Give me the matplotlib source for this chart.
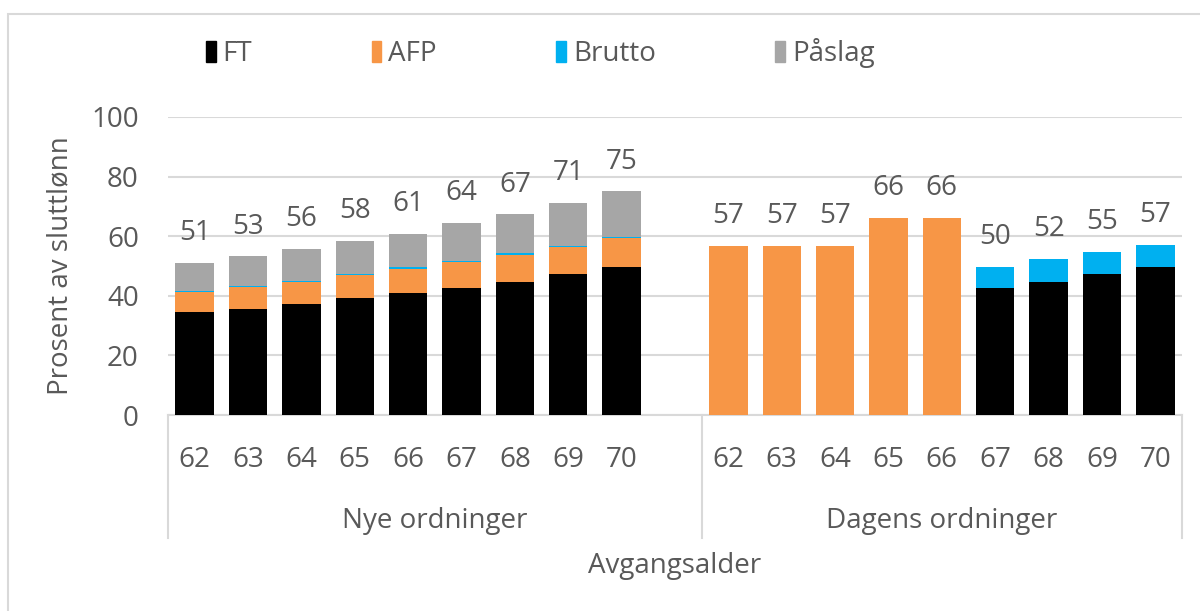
import numpy as np
import matplotlib
matplotlib.use("Agg")
import matplotlib.pyplot as plt
import matplotlib.transforms as mtransforms
from matplotlib.patches import Rectangle, Patch

# Data (percent of final salary)
ages = ["62", "63", "64", "65", "66", "67", "68", "69", "70"]
groups = ["Nye ordninger", "Dagens ordninger"]

# Nye ordninger
ft_nye = [34.4, 35.5, 37.4, 39.1, 40.9, 42.6, 44.7, 47.3, 49.8]
afp_nye = [6.9, 7.5, 7.3, 7.9, 8.2, 8.6, 9.1, 9.0, 9.6]
brutto_nye = [0.4, 0.4, 0.4, 0.4, 0.4, 0.4, 0.4, 0.4, 0.4]
paslag_nye = [9.3, 9.8, 10.7, 10.9, 11.3, 12.8, 13.1, 14.6, 15.2]

# Dagens ordninger
ft_dag = [0, 0, 0, 0, 0, 42.5, 44.7, 47.3, 49.8]
afp_dag = [56.6, 56.6, 56.6, 66.0, 66.0, 0, 0, 0, 0]
brutto_dag = [0, 0, 0, 0, 0, 7.2, 7.7, 7.3, 7.3]
paslag_dag = [0, 0, 0, 0, 0, 0, 0, 0, 0]

C_FT = "#000000"
C_AFP = "#F79646"
C_BRUTTO = "#00B0F0"
C_PASLAG = "#A6A6A6"
TXT = "#595959"
GRID = "#D9D9D9"

plt.rcParams["font.family"] = ["Open Sans", "DejaVu Sans"]
FS = 20

# one empty slot between the two groups
x_nye = np.arange(9)
x_dag = np.arange(9) + 10

fig = plt.figure(figsize=(12, 6.11), dpi=100)
ax = fig.add_axes([168 / 1200, 1 - 415 / 611, (1182 - 168) / 1200, 298 / 611])

# outer chart-area frame
fig.patches.append(Rectangle((8 / 1200, -0.1), 1.2, 1 - 14 / 611 + 0.1, transform=fig.transFigure,
                             fill=False, edgecolor=GRID, lw=1.5))

w = 0.72
for xs, ft, afp, br, pa in [(x_nye, ft_nye, afp_nye, brutto_nye, paslag_nye),
                            (x_dag, ft_dag, afp_dag, brutto_dag, paslag_dag)]:
    ft = np.array(ft)
    afp = np.array(afp)
    br = np.array(br)
    pa = np.array(pa)
    ax.bar(xs, ft, w, color=C_FT, zorder=3)
    ax.bar(xs, afp, w, bottom=ft, color=C_AFP, zorder=3)
    ax.bar(xs, br, w, bottom=ft + afp, color=C_BRUTTO, zorder=3)
    ax.bar(xs, pa, w, bottom=ft + afp + br, color=C_PASLAG, zorder=3)
    tot = ft + afp + br + pa
    for xi, t in zip(xs, tot):
        ax.annotate("%.0f" % t, (xi, t), xytext=(0, 21.5), textcoords="offset points",
                    ha="center", va="center", fontsize=FS, color=TXT)

ax.set_xlim(-0.5, 18.5)
ax.set_ylim(0, 100)
ax.set_yticks([0, 20, 40, 60, 80, 100])
ax.yaxis.grid(True, color=GRID, lw=1.5, zorder=0)
ax.tick_params(axis="y", length=0, pad=21, labelsize=FS, labelcolor=TXT)
ax.set_xticks([])
for s in ["left", "right", "top"]:
    ax.spines[s].set_visible(False)
ax.spines["bottom"].set_color(GRID)
ax.spines["bottom"].set_linewidth(1.5)

ax.set_ylabel("Prosent av sluttlønn", fontsize=FS, color=TXT, labelpad=12)

# multi-level category axis
trans = mtransforms.blended_transform_factory(ax.transData, ax.transAxes)
for xs in [x_nye, x_dag]:
    for xi, lab in zip(xs, ages):
        ax.annotate(lab, (xi, 0), xycoords=trans, xytext=(0, -32.5), textcoords="offset points",
                    ha="center", va="center", fontsize=FS, color=TXT)
group_spans = [(-0.5, 9.5), (9.5, 18.5)]
for (a, b), g in zip(group_spans, groups):
    ax.annotate(g, ((a + b) / 2, 0), xycoords=trans, xytext=(0, -76), textcoords="offset points",
                ha="center", va="center", fontsize=FS, color=TXT)
for xv in [-0.5, 9.5, 18.5]:
    ax.plot([xv, xv], [0, -123 / 298], transform=trans, color=GRID, lw=1.5, clip_on=False)

ax.annotate("Avgangsalder", (0.5, 0), xycoords="axes fraction", xytext=(0, -109),
            textcoords="offset points", ha="center", va="center", fontsize=FS, color=TXT)

# legend
handles = [Patch(color=C_FT, label="FT"), Patch(color=C_AFP, label="AFP"),
           Patch(color=C_BRUTTO, label="Brutto"), Patch(color=C_PASLAG, label="Påslag")]
leg = fig.legend(handles=handles, loc="center left", bbox_to_anchor=(181 / 1200, 1 - 53 / 611),
                 ncol=4, frameon=False, fontsize=FS, handlelength=0.35, handleheight=0.8,
                 handletextpad=0.25, columnspacing=4.3, labelcolor=TXT)

fig.savefig("out.png", dpi=100)
